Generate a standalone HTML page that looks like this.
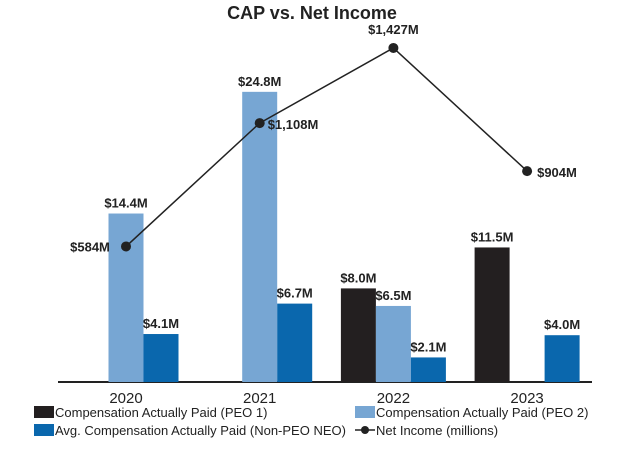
<!DOCTYPE html>
<html><head><meta charset="utf-8"><style>
body{margin:0;background:#fff;width:624px;height:451px;overflow:hidden}
svg{font-family:"Liberation Sans",Arial,sans-serif}
</style></head><body>
<svg id="c" width="624" height="451">
<text x="312" y="19" text-anchor="middle" font-size="18" font-weight="bold" fill="#222">CAP vs. Net Income</text>
<line x1="58" y1="382" x2="592" y2="382" stroke="#222" stroke-width="2"/>
<g id="bars"></g><g id="line"></g><g id="labels"></g>
<g font-size="13" fill="#222">
<rect x="34" y="406" width="20" height="12" fill="#231f20"/>
<text x="55" y="417">Compensation Actually Paid (PEO 1)</text>
<rect x="355" y="406" width="20" height="12" fill="#77a6d3"/>
<text x="376" y="417">Compensation Actually Paid (PEO 2)</text>
<rect x="34" y="424" width="20" height="12" fill="#0a67ad"/>
<text x="55" y="435">Avg. Compensation Actually Paid (Non-PEO NEO)</text>
<line x1="355" y1="430" x2="375" y2="430" stroke="#222" stroke-width="1.5"/>
<circle cx="365" cy="430" r="4" fill="#222"/>
<text x="376" y="435">Net Income (millions)</text>
</g>
</svg>
<script>
const years=["2020","2021","2022","2023"];
const peo1=[null,null,8.0,11.5];
const peo2=[14.4,24.8,6.5,null];
const neo=[4.1,6.7,2.1,4.0];
const netIncome=[584,1108,1427,904];
const ns="http://www.w3.org/2000/svg";
const base=382, barW=35;
const xc=i=>126+i*133.7;
const yBar=v=>base-v*11.7;
const yLine=v=>384-v*0.2355;
function mk(tag,attrs,parent){const e=document.createElementNS(ns,tag);for(const k in attrs)e.setAttribute(k,attrs[k]);parent.appendChild(e);return e;}
const gb=document.getElementById('bars'),gl=document.getElementById('line'),gt=document.getElementById('labels');
const series=[[peo1,"#231f20","peo1"],[peo2,"#77a6d3","peo2"],[neo,"#0a67ad","neo"]];
years.forEach((y,i)=>{
  series.forEach((s,j)=>{
    const v=s[0][i]; if(v==null)return;
    const x=xc(i)+(j-1.5)*barW;
    const r=mk('rect',{x:x,y:yBar(v),width:barW,height:base-yBar(v),fill:s[1]},gb);
    
    
    const t=mk('text',{x:x+barW/2,y:yBar(v)-6,'text-anchor':'middle','font-size':'13','font-weight':'bold',fill:'#222'},gt);
    t.textContent='$'+v.toFixed(1)+'M';
    
    
  });
  const yl=mk('text',{x:xc(i),y:403,'text-anchor':'middle','font-size':'15',fill:'#222'},gt);
  yl.textContent=y;
  
  
});
const pl=mk('polyline',{points:netIncome.map((v,i)=>xc(i)+','+yLine(v)).join(' '),fill:'none',stroke:'#222','stroke-width':'1.5'},gl);


const off=[[-36,5,'middle'],[8,6,'start'],[0,-14,'middle'],[10,6,'start']];
netIncome.forEach((v,i)=>{
  const c=mk('circle',{cx:xc(i),cy:yLine(v),r:5,fill:'#222'},gl);
  
  
  const t=mk('text',{x:xc(i)+off[i][0],y:yLine(v)+off[i][1],'text-anchor':off[i][2],'font-size':'13','font-weight':'bold',fill:'#222'},gt);
  t.textContent='$'+v.toLocaleString('en-US')+'M';
  
  
});
</script>
</body></html>
